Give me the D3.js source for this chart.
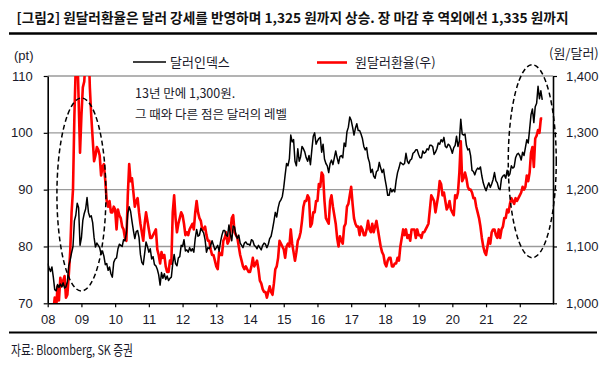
<!DOCTYPE html>
<html><head><meta charset="utf-8">
<script src="https://cdn.jsdelivr.net/npm/d3@7"></script>
<style>
html,body{margin:0;padding:0;background:#fff;}
svg{display:block;}
text{font-family:"Noto Sans CJK KR","Noto Sans",sans-serif;}
.num{font-family:"Liberation Sans",Arial,sans-serif;}
</style></head>
<body>
<svg id="chart" width="605" height="366"></svg>
<script>
// ---- data (semi-monthly samples) ----
const startYear = 2008;
const samplesPerYear = 24;
const yearTicks = [2008,2009,2010,2011,2012,2013,2014,2015,2016,2017,2018,2019,2020,2021,2022];
const leftTicks = [70,80,90,100,110];
const rightTicks = [1000,1100,1200,1300,1400];

const dollarIndex = [
// 2008
77.0,76.2,75.6,76.4,74.6,72.4,72.2,73.3,72.8,73.4,72.9,73.6,72.7,72.9,73.8,76.6,77.6,78.9,80.0,84.5,85.5,87.6,86.8,80.2,
// 2009
81.5,84.6,85.8,86.6,88.6,86.0,85.2,85.4,84.2,81.6,79.9,80.6,80.2,79.8,78.6,79.2,78.3,76.8,77.0,75.8,76.4,75.2,74.6,77.2,
// 2010
77.8,78.0,79.6,80.4,80.2,80.0,81.2,81.0,82.4,85.8,87.0,86.2,84.4,82.8,81.4,82.6,82.8,81.6,78.6,77.2,76.8,78.8,80.8,80.0,
// 2011
79.0,79.6,77.8,78.2,76.8,76.6,76.0,75.0,73.2,75.4,74.4,75.2,74.2,74.8,74.0,74.4,74.6,77.0,78.6,77.0,76.6,78.0,78.2,80.2,
// 2012
80.0,81.2,79.2,79.4,79.0,79.8,79.2,79.6,79.0,81.4,83.0,81.8,82.0,83.2,82.8,82.4,81.2,79.0,79.8,79.6,80.2,81.0,80.2,79.4,
// 2013
79.8,80.2,79.2,80.8,82.0,82.8,82.8,82.0,81.8,83.8,82.2,81.0,83.6,83.4,82.0,81.4,82.0,80.6,80.2,79.8,80.6,80.8,80.4,80.4,
// 2014
80.2,81.2,81.0,80.2,80.0,79.6,80.2,79.8,79.4,80.2,80.6,80.4,79.8,80.4,81.4,81.8,83.0,84.4,86.0,85.2,86.8,87.8,88.2,88.8,
// 2015
90.4,92.6,94.6,94.2,95.4,99.6,98.4,98.8,95.0,94.2,97.2,95.0,95.8,97.6,97.2,96.6,95.6,95.0,96.0,94.4,97.0,99.4,100.0,98.0,
// 2016
98.6,99.0,99.2,96.6,98.0,95.4,94.6,94.2,93.0,94.6,95.2,94.4,95.6,96.8,95.6,94.6,95.8,96.0,95.6,98.2,97.6,100.2,101.0,102.8,
// 2017
102.2,101.0,99.6,100.8,101.6,100.4,100.4,99.8,99.0,97.6,97.0,97.4,95.6,94.8,93.0,93.6,92.4,92.0,93.2,93.4,94.8,93.8,93.0,93.6,
// 2018
92.0,90.6,89.0,89.0,90.2,89.6,90.0,89.6,91.6,93.0,93.8,94.8,94.6,94.4,94.6,96.4,95.0,94.6,95.2,95.4,96.4,96.6,97.0,97.0,
// 2019
96.2,95.6,95.6,96.8,96.4,96.6,97.2,97.0,97.8,97.8,97.6,96.2,96.6,97.2,98.2,98.0,98.8,98.4,99.2,97.6,97.4,98.0,97.8,97.2,
// 2020
96.4,97.4,97.8,99.4,97.6,98.6,102.4,99.8,99.6,99.8,97.8,97.0,97.2,96.0,93.4,93.2,92.6,93.4,93.8,93.6,94.0,92.4,91.2,90.4,
// 2021
89.8,90.6,91.2,90.4,91.0,91.8,93.0,91.6,91.2,90.2,90.0,92.0,92.4,92.6,92.0,93.4,92.4,92.8,94.2,93.8,94.0,95.6,96.2,96.4,
// 2022
96.0,95.2,96.6,96.0,97.4,98.8,98.2,100.6,103.2,104.2,101.8,104.6,105.2,108.2,106.0,107.4,105.8
];

const krwUsd = [
// 2008
938,944,945,940,985,1010,990,1030,1005,1045,1030,1040,1048,1010,1015,1050,1090,1160,1200,1330,1420,1450,1360,1265,
// 2009
1330,1380,1390,1430,1560,1460,1380,1330,1290,1250,1260,1275,1270,1260,1225,1240,1245,1215,1180,1170,1180,1160,1160,1170,
// 2010
1165,1130,1165,1155,1150,1135,1130,1115,1110,1190,1245,1215,1220,1195,1170,1180,1185,1160,1140,1125,1110,1140,1160,1145,
// 2011
1130,1115,1115,1120,1125,1130,1095,1085,1070,1090,1080,1085,1065,1055,1055,1075,1070,1160,1190,1150,1125,1140,1150,1160,
// 2012
1155,1140,1120,1125,1120,1130,1135,1140,1130,1160,1180,1160,1150,1145,1130,1130,1135,1120,1110,1110,1095,1085,1085,1075,
// 2013
1065,1060,1090,1085,1085,1110,1115,1125,1105,1110,1125,1150,1155,1125,1120,1115,1100,1085,1075,1065,1060,1065,1060,1055,
// 2014
1055,1065,1080,1065,1070,1075,1060,1040,1035,1025,1020,1020,1010,1020,1030,1020,1015,1035,1060,1065,1080,1110,1105,1100,
// 2015
1095,1080,1100,1105,1100,1130,1105,1090,1075,1090,1110,1115,1125,1145,1170,1180,1180,1190,1185,1135,1140,1160,1160,1180,
// 2016
1180,1210,1205,1230,1225,1180,1150,1145,1140,1180,1190,1170,1155,1140,1115,1100,1118,1110,1105,1135,1140,1170,1175,1190,
// 2017
1205,1175,1150,1140,1135,1135,1120,1135,1130,1120,1120,1130,1145,1130,1125,1140,1125,1135,1145,1130,1115,1100,1090,1085,
// 2018
1070,1065,1075,1080,1080,1065,1065,1070,1070,1080,1075,1100,1115,1130,1120,1130,1115,1120,1110,1130,1130,1130,1115,1130,
// 2019
1120,1120,1115,1125,1125,1130,1135,1140,1165,1190,1185,1180,1160,1175,1190,1215,1210,1190,1195,1180,1165,1170,1180,1165,
// 2020
1160,1155,1190,1185,1195,1230,1285,1215,1220,1230,1220,1205,1200,1200,1195,1185,1185,1170,1160,1150,1135,1115,1100,1090,
// 2021
1085,1100,1115,1105,1125,1130,1130,1120,1115,1130,1115,1130,1135,1150,1150,1165,1160,1175,1185,1180,1175,1185,1180,1185,
// 2022
1190,1195,1205,1200,1205,1225,1215,1230,1265,1275,1240,1290,1295,1305,1300,1325,1325
];

const titleText = "[그림2] 원달러환율은 달러 강세를 반영하며 1,325 원까지 상승. 장 마감 후 역외에선 1,335 원까지";
const seriesNames = ["달러인덱스","원달러환율(우)"];
const noteLines = ["13년 만에 1,300원.","그 때와 다른 점은 달러의 레벨"];
const sourceText = "자료: Bloomberg, SK 증권";

// ---- drawing ----
const svg = d3.select("#chart");
const L = 47.7, R = 553, T = 76, B = 303.3;

const x = d3.scaleLinear().domain([2008, 2023]).range([L, R + 0.5]);
const yL = d3.scaleLinear().domain([70, 110]).range([B, T]);
const yR = d3.scaleLinear().domain([1000, 1400]).range([B, T]);

// title
svg.append("text").attr("x", 16.5).attr("y", 22.5).attr("font-size", 13.5).attr("font-weight", 700)
  .attr("fill", "#111").attr("textLength", 552).attr("lengthAdjust", "spacingAndGlyphs").text(titleText);
svg.append("line").attr("x1", 9).attr("x2", 597).attr("y1", 33.5).attr("y2", 33.5)
  .attr("stroke", "#000").attr("stroke-width", 2.4);

// gridlines
svg.append("g").selectAll("line").data(leftTicks.filter(d => d > 70)).join("line")
  .attr("x1", L).attr("x2", R).attr("y1", d => yL(d)).attr("y2", d => yL(d))
  .attr("stroke", "#9a9a9a").attr("stroke-width", 1.4);

// clip
svg.append("clipPath").attr("id", "plotclip").append("rect")
  .attr("x", L).attr("y", T).attr("width", R - L).attr("height", B - T);

const dateOf = i => startYear + i / samplesPerYear;

const lineKRW = d3.line().x((d, i) => x(dateOf(i))).y(d => yR(d));
const lineDXY = d3.line().x((d, i) => x(dateOf(i))).y(d => yL(d));

const plot = svg.append("g").attr("clip-path", "url(#plotclip)");
plot.append("path").datum(krwUsd).attr("d", lineKRW).attr("fill", "none")
  .attr("stroke", "#ff0000").attr("stroke-width", 2.6).attr("stroke-linejoin", "round");
plot.append("path").datum(dollarIndex).attr("d", lineDXY).attr("fill", "none")
  .attr("stroke", "#000").attr("stroke-width", 1.5).attr("stroke-linejoin", "round");

// axes
const axB = svg.append("g").attr("transform", `translate(0,${B})`)
  .call(d3.axisBottom(x).tickValues(yearTicks).tickSize(4).tickSizeOuter(0)
    .tickFormat(d => d3.format("02")(d % 100)));
const axL = svg.append("g").attr("transform", `translate(${L},0)`)
  .call(d3.axisLeft(yL).tickValues(leftTicks).tickSize(4).tickSizeOuter(0).tickPadding(11));
const axR = svg.append("g").attr("transform", `translate(${R},0)`)
  .call(d3.axisRight(yR).tickValues(rightTicks).tickSize(4).tickSizeOuter(0).tickPadding(9)
    .tickFormat(d3.format(",")));
[axB, axL, axR].forEach(g => {
  g.select(".domain").attr("stroke", "#000").attr("stroke-width", 1.6);
  g.selectAll(".tick line").attr("stroke", "#000").attr("stroke-width", 1.2);
  g.selectAll(".tick text").attr("class", "num").attr("font-size", 13).attr("fill", "#1a1a2a");
});
axB.selectAll(".tick text").attr("dy", "0.71em").attr("y", 11);

// unit labels
svg.append("text").attr("class", "num").attr("x", 14).attr("y", 59.5).attr("font-size", 13)
  .attr("fill", "#1a1a2a").text("(pt)");
svg.append("text").attr("x", 549).attr("y", 58).attr("font-size", 13)
  .attr("fill", "#1a1a2a").text("(원/달러)");

// legend
const lg = svg.append("g");
lg.append("line").attr("x1", 133).attr("x2", 166).attr("y1", 62).attr("y2", 62)
  .attr("stroke", "#000").attr("stroke-width", 1.6);
lg.append("text").attr("x", 170).attr("y", 66.5).attr("font-size", 13).attr("fill", "#1a1a2a").text(seriesNames[0]);
lg.append("line").attr("x1", 317).attr("x2", 347).attr("y1", 62.5).attr("y2", 62.5)
  .attr("stroke", "#ff0000").attr("stroke-width", 2.6);
lg.append("text").attr("x", 355).attr("y", 66.5).attr("font-size", 13).attr("fill", "#1a1a2a").text(seriesNames[1]);

// annotation
svg.append("g").selectAll("text").data(noteLines).join("text")
  .attr("x", 135).attr("y", (d, i) => 97.5 + i * 21).attr("font-size", 12.5).attr("fill", "#1a1a2a")
  .text(d => d);

// dashed ellipses (centre in data units, radii in px)
const ellipses = [
  {cx: 2009.0, cy: 89.15, rx: 24.5, ry: 96.5, scale: "L"},
  {cx: 2022.37, cy: 1250, rx: 24, ry: 96.5, scale: "R"}
];
svg.append("g").selectAll("ellipse").data(ellipses).join("ellipse")
  .attr("cx", d => x(d.cx)).attr("cy", d => d.scale === "L" ? yL(d.cy) : yR(d.cy))
  .attr("rx", d => d.rx).attr("ry", d => d.ry)
  .attr("fill", "none").attr("stroke", "#000").attr("stroke-width", 1.5).attr("stroke-dasharray", "5,3");

// source
svg.append("line").attr("x1", 9).attr("x2", 597).attr("y1", 332.5).attr("y2", 332.5)
  .attr("stroke", "#000").attr("stroke-width", 2);
svg.append("text").attr("x", 11).attr("y", 355).attr("font-size", 13.5).attr("fill", "#1a1a2a")
  .attr("textLength", 122).attr("lengthAdjust", "spacingAndGlyphs").text(sourceText);
</script>
</body></html>
